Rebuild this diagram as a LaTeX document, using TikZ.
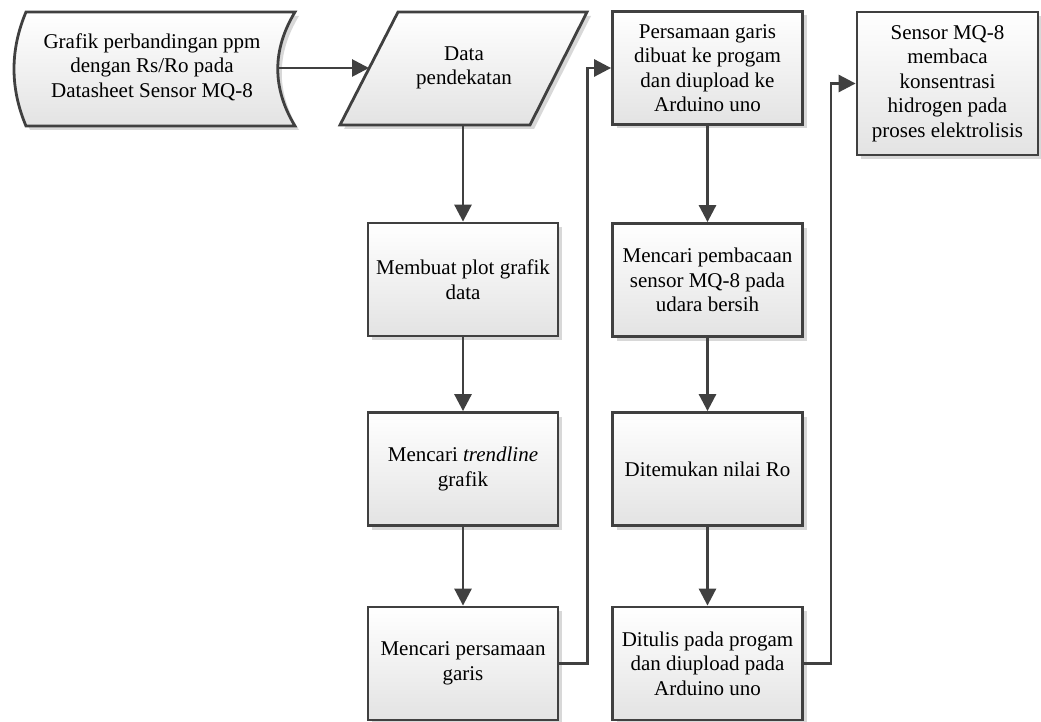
\documentclass[tikz,border=0pt]{standalone}
\usepackage{fontspec}
\setmainfont{Liberation Serif}
\usetikzlibrary{arrows.meta,shadows}

\definecolor{edge}{HTML}{404040}
\definecolor{boxbot}{HTML}{E3E3E3}
\definecolor{shadowgray}{HTML}{D8D8D8}

\begin{document}
\begin{tikzpicture}[x=1pt,y=-1pt,
  shapefill/.style={draw=edge, line width=2.8pt, top color=white, bottom color=boxbot,
    drop shadow={shadow xshift=4pt, shadow yshift=-4pt, fill=shadowgray, opacity=1}},
  label/.style={align=center, font=\fontsize{21}{24.5}\selectfont, inner sep=2pt},
  stepbox/.style={shapefill, label, minimum width=190pt, minimum height=113pt},
  flow/.style={draw=edge, line width=2.8pt, -{Triangle[length=17pt,width=17pt]}},
]
\useasboundingbox (0,0) rectangle (1041,722);

% stored-data source
\path[shapefill] (26,12) -- (295,12) .. controls (272,50) and (272,88) .. (295,126)
  -- (26,126) .. controls (10,88) and (10,50) .. (26,12) -- cycle;
\node[label] (src) at (152,67) {Grafik perbandingan ppm\\dengan Rs/Ro pada\\Datasheet Sensor MQ-8};
\coordinate (srcout) at (278.5,68);

% input/output parallelogram
\path[shapefill] (398,12) -- (587,12) -- (530,125) -- (340,125) -- cycle;
\node[label] (data) at (464,68) {Data\\pendekatan};
\coordinate (datain) at (369,68);
\coordinate (dataout) at (463,125);

% process steps
\node[stepbox] (plot)  at (463,279.5)   {Membuat plot grafik\\data};
\node[stepbox] (trend) at (463,469)     {Mencari \textit{trendline}\\grafik};
\node[stepbox] (pers)  at (463,663.5)   {Mencari persamaan\\garis};
\node[stepbox] (prog)  at (707.5,68)    {Persamaan garis\\dibuat ke progam\\dan diupload ke\\Arduino uno};
\node[stepbox] (baca)  at (707.5,280)   {Mencari pembacaan\\sensor MQ-8 pada\\udara bersih};
\node[stepbox] (ro)    at (707.5,469)   {Ditemukan nilai Ro};
\node[stepbox] (tulis) at (707.5,663.5) {Ditulis pada progam\\dan diupload pada\\Arduino uno};
\node[stepbox, minimum width=181pt, minimum height=143pt] (mq) at (947.5,83.5)
  {Sensor MQ-8\\membaca\\konsentrasi\\hidrogen pada\\proses elektrolisis};

% connectors
\draw[flow] (srcout) -- (datain);
\draw[flow] (dataout) -- (plot.north);
\draw[flow] (plot) -- (trend);
\draw[flow] (trend) -- (pers);
\draw[flow] (pers.east) -- ++(28,0) |- (prog.west);
\draw[flow] (prog) -- (baca);
\draw[flow] (baca) -- (ro);
\draw[flow] (ro) -- (tulis);
\draw[flow] (tulis.east) -- ++(27,0) |- (mq.west);
\end{tikzpicture}
\end{document}
